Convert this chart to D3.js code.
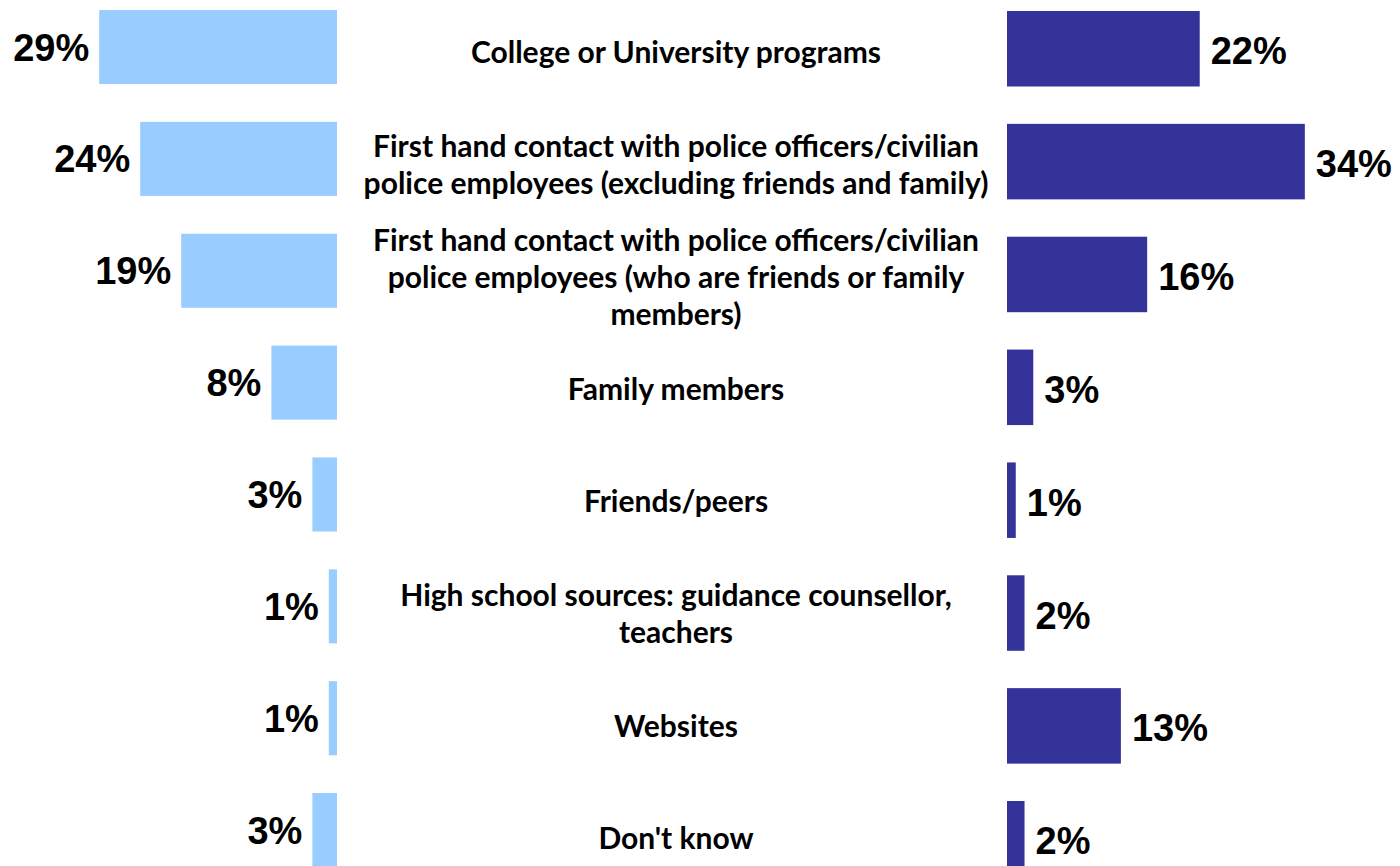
<!DOCTYPE html>
<html>
<head>
<meta charset="utf-8">
<script src="https://cdn.jsdelivr.net/npm/d3@7"></script>
<style>
  html, body { margin: 0; padding: 0; background: #ffffff; }
  svg { display: block; }
</style>
</head>
<body>
<svg id="chart" width="1400" height="866"></svg>
<script>
// Sources of information, two groups compared side by side
const categories = [
  "College or University programs",
  "First hand contact with police officers/civilian\npolice employees (excluding friends and family)",
  "First hand contact with police officers/civilian\npolice employees (who are friends or family\nmembers)",
  "Family members",
  "Friends/peers",
  "High school sources: guidance counsellor,\nteachers",
  "Websites",
  "Don't know"
];
const leftValues  = [29, 24, 19, 8, 3, 1, 1, 3];
const rightValues = [22, 34, 16, 3, 1, 2, 13, 2];

const svg = d3.select("#chart");

// Horizontal scales: left group grows leftwards, right group grows rightwards
const xLeft  = d3.scaleLinear().domain([0, 40]).range([337, 9]);
const xRight = d3.scaleLinear().domain([0, 40]).range([1007, 1357.4]);

// Vertical band scales for the two bar columns
const yLeft = d3.scaleBand().domain(categories).range([10, 867.1]).paddingInner(0.338).paddingOuter(0);
const yRight = d3.scaleBand().domain(categories).range([11, 876.5]).paddingInner(0.331).paddingOuter(0);

const rows = categories.map((c, i) => ({ cat: c, left: leftValues[i], right: rightValues[i] }));

// Left bars
svg.append("g").selectAll("rect").data(rows).join("rect")
  .attr("x", d => xLeft(d.left))
  .attr("y", d => yLeft(d.cat))
  .attr("width", d => xLeft(0) - xLeft(d.left))
  .attr("height", yLeft.bandwidth())
  .attr("fill", "#99CCFF");

// Right bars
svg.append("g").selectAll("rect").data(rows).join("rect")
  .attr("x", xRight(0))
  .attr("y", d => yRight(d.cat))
  .attr("width", d => xRight(d.right) - xRight(0))
  .attr("height", yRight.bandwidth())
  .attr("fill", "#333399");

const pctFont = "'Liberation Sans', Arial, sans-serif";

// Left value labels
svg.append("g").selectAll("text").data(rows).join("text")
  .attr("x", d => xLeft(d.left) - 10)
  .attr("y", d => yLeft(d.cat) + yLeft.bandwidth() / 2 + 13.6)
  .attr("text-anchor", "end")
  .style("font-family", pctFont)
  .style("font-weight", "bold")
  .style("font-size", "38px")
  .attr("fill", "#000")
  .text(d => d.left + "%");

// Right value labels
svg.append("g").selectAll("text").data(rows).join("text")
  .attr("x", d => xRight(d.right) + 11)
  .attr("y", d => yRight(d.cat) + yRight.bandwidth() / 2 + 15.5)
  .attr("text-anchor", "start")
  .style("font-family", pctFont)
  .style("font-weight", "bold")
  .style("font-size", "38px")
  .attr("fill", "#000")
  .text(d => d.right + "%");

// Category labels in the centre column, one line per tspan
const lineGap = 37;
const labelX = 676;
const catG = svg.append("g");
rows.forEach(d => {
  const lines = d.cat.split("\n");
  const mid = (yLeft(d.cat) + yLeft.bandwidth() / 2 + yRight(d.cat) + yRight.bandwidth() / 2) / 2 + 15;
  const t = catG.append("text")
    .attr("text-anchor", "middle")
    .style("font-family", "Lato, 'Open Sans', sans-serif")
    .style("font-weight", "bold")
    .style("font-size", "30px")
    .attr("fill", "#000");
  lines.forEach((ln, j) => {
    t.append("tspan")
      .attr("x", labelX)
      .attr("y", mid - (lines.length - 1) * lineGap / 2 + j * lineGap)
      .text(ln);
  });
});
</script>
</body>
</html>
